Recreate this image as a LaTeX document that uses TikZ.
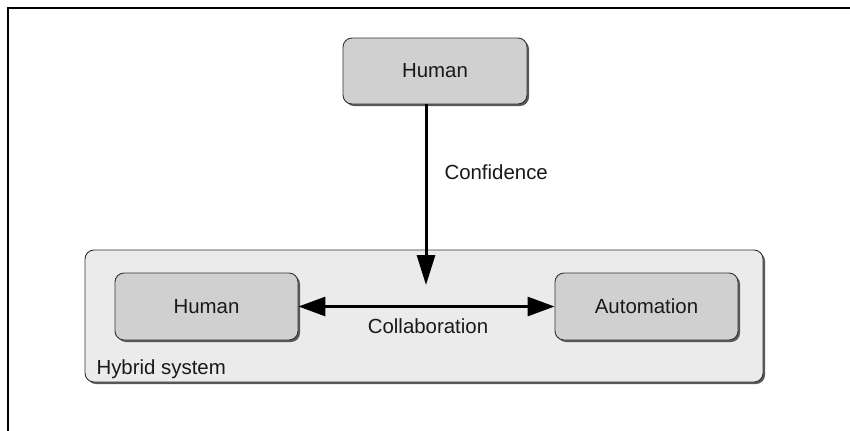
\documentclass[tikz,border=0pt]{standalone}
\usepackage{fontspec}
\setmainfont{Liberation Sans}
\usetikzlibrary{arrows.meta,shadows}
\definecolor{boxfill}{HTML}{D0D0D0}
\definecolor{contfill}{HTML}{EBEBEB}
\definecolor{edge}{HTML}{333333}
\tikzset{
  txt/.style={font=\fontsize{20.5}{24}\selectfont, text=black!90},
  box/.style={draw=edge, line width=0.9bp, fill=boxfill, rounded corners=9bp,
    drop shadow={shadow xshift=2bp, shadow yshift=-2bp, fill=black!65, opacity=1},
    inner sep=0pt, txt},
  cont/.style={draw=edge, line width=0.9bp, fill=contfill, rounded corners=9bp,
    drop shadow={shadow xshift=2bp, shadow yshift=-2bp, fill=black!65, opacity=1},
    inner sep=0pt},
  conn/.style={line width=3bp, black},
  tip/.style={Triangle[length=29bp, width=19bp]},
  frameline/.style={line width=2bp, black}
}
\begin{document}
\begin{tikzpicture}[x=1bp,y=-1bp]
\useasboundingbox (0,0) rectangle (850,430);
\fill[white] (0,0) rectangle (850,430);
\coordinate (fa) at (8,440);
\coordinate (fb) at (8,8);
\coordinate (fc) at (860,8);
\draw[frameline] (fa) -- (fb) -- (fc);
% container
\node[cont, minimum width=678bp, minimum height=132bp] (hyb) at (424,316) {};
\node[txt, anchor=base west] (hyblab) at (93,374) {Hybrid system};
% boxes
\node[box, minimum width=184bp, minimum height=66bp] (h) at (435,71) {Human};
\node[box, minimum width=183bp, minimum height=67bp] (hi) at (206.5,306.5) {Human};
\node[box, minimum width=183bp, minimum height=67bp] (au) at (646.5,306.5) {Automation};
% connectors
\coordinate (tipv) at (426,285);
\draw[conn, -{Triangle[length=30bp, width=18bp]}] (h.south -| tipv) -- (tipv);
\draw[conn, {Triangle[length=27bp, width=19bp]}-{Triangle[length=27bp, width=19bp]}] (hi.east) -- (au.west);
\node[txt, anchor=base west] (conf) at (441,179) {Confidence};
\node[txt, anchor=base] (coll) at (428,333) {Collaboration};
\end{tikzpicture}
\end{document}
